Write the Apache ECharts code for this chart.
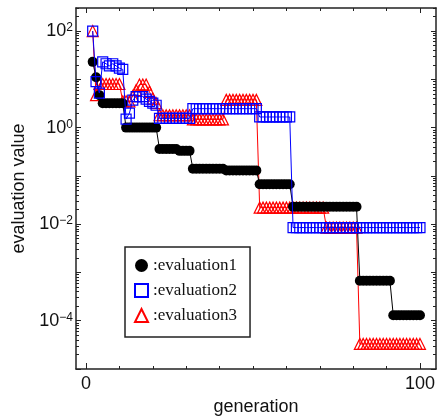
<!DOCTYPE html>
<html><head><meta charset="utf-8">
<script src="https://cdn.jsdelivr.net/npm/echarts@6/dist/echarts.min.js"></script>
<style>html,body{margin:0;padding:0;background:#fff}#c{width:437px;height:416px}</style>
</head><body><div id="c"></div>
<script>
const generations = [2,3,4,5,6,7,8,9,10,11,12,13,14,15,16,17,18,19,20,21,22,23,24,25,26,27,28,29,30,31,32,33,34,35,36,37,38,39,40,41,42,43,44,45,46,47,48,49,50,51,52,53,54,55,56,57,58,59,60,61,62,63,64,65,66,67,68,69,70,71,72,73,74,75,76,77,78,79,80,81,82,83,84,85,86,87,88,89,90,91,92,93,94,95,96,97,98,99,100];
const evaluation1 = [23,11,4.7,
 3.2,3.2,3.2,3.2,3.2,3.2,3.2,
 1,1,1,1,1,1,1,1,1,1,
 0.36,0.36,0.36,0.36,0.36,0.36,0.33,0.33,0.33,0.33,
 0.14,0.14,0.14,0.14,0.14,0.14,0.14,0.14,0.14,0.14,
 0.13,0.13,0.13,0.13,0.13,0.13,0.13,0.13,0.13,0.13,
 0.067,0.067,0.067,0.067,0.067,0.067,0.067,0.067,0.067,0.067,
 0.023,0.023,0.023,0.023,0.023,0.023,0.023,0.023,0.023,0.023,0.023,0.023,0.023,0.023,0.023,0.023,0.023,0.023,0.023,0.023,
 6.7e-4,6.7e-4,6.7e-4,6.7e-4,6.7e-4,6.7e-4,6.7e-4,6.7e-4,6.7e-4,6.7e-4,
 1.3e-4,1.3e-4,1.3e-4,1.3e-4,1.3e-4,1.3e-4,1.3e-4,1.3e-4,1.3e-4];
const evaluation2 = [100,9,5.2,23,21,19,21,19,17,16,1.5,2.0,3.7,4.4,4.4,4.4,3.9,3.5,3.2,2.9,
 1.55,1.55,1.55,1.55,1.55,1.55,1.55,1.55,1.55,1.55,
 2.47,2.47,2.47,2.47,2.47,2.47,2.47,2.47,2.47,2.47,2.47,2.47,2.47,2.47,2.47,2.47,2.47,2.47,2.47,2.47,
 1.66,1.66,1.66,1.66,1.66,1.66,1.66,1.66,1.66,1.66,
 0.0085,0.0085,0.0085,0.0085,0.0085,0.0085,0.0085,0.0085,0.0085,0.0085,0.0085,0.0085,0.0085,0.0085,0.0085,0.0085,0.0085,0.0085,0.0085,0.0085,
 0.0085,0.0085,0.0085,0.0085,0.0085,0.0085,0.0085,0.0085,0.0085,0.0085,0.0085,0.0085,0.0085,0.0085,0.0085,0.0085,0.0085,0.0085,0.0085];
const evaluation3 = [100,4.7,
 8,8,8,8,8,8,8,
 3.5,3.5,3.5,4.5,6.0,7.8,7.8,7.8,5.5,4.0,3.2,
 1.8,1.8,1.8,1.8,1.8,1.8,1.8,1.8,1.8,1.8,
 1.48,1.48,1.48,1.48,1.48,1.48,1.48,1.48,1.48,1.48,
 3.75,3.75,3.75,3.75,3.75,3.75,3.75,3.75,3.75,3.75,
 0.022,0.022,0.022,0.022,0.022,0.022,0.022,0.022,0.022,0.022,0.022,0.022,0.022,0.022,0.022,0.022,0.022,0.022,0.022,0.022,
 0.0085,0.0085,0.0085,0.0085,0.0085,0.0085,0.0085,0.0085,0.0085,0.0085,
 3.3e-5,3.3e-5,3.3e-5,3.3e-5,3.3e-5,3.3e-5,3.3e-5,3.3e-5,3.3e-5,3.3e-5,3.3e-5,3.3e-5,3.3e-5,3.3e-5,3.3e-5,3.3e-5,3.3e-5,3.3e-5,3.3e-5];
const seriesNames = ['evaluation1','evaluation2','evaluation3'];
const xLabelValues = [0, 100];
const xMinorTickValues = [10,20,30,40,50,60,70,80,90];
const yLabelValues = [1e-4, 1e-2, 1, 100];
const yMajorTickValues = [1e-5,1e-4,1e-3,1e-2,1e-1,1,10,100];

const yMinorTickValues = [];
yMajorTickValues.forEach(d => { for (let k = 2; k <= 9; k++) { const v = d * k; if (v <= 300) yMinorTickValues.push(v); } });

const pair = (vals) => generations.map((g, i) => [g, vals[i]]);
const AX = '#222';
const font = 'Liberation Sans, Arial, sans-serif';
const Y_MIN = 1e-5, Y_MAX = 300;

function xAxisDef(pos, ticks, len, showLine, labels) {
  return {
    type: 'value', position: pos, min: -3, max: 104.8, gridIndex: 0,
    axisLine: {show: showLine, onZero: false, lineStyle: {color: AX, width: 1.5}},
    axisTick: {show: true, inside: true, length: len, customValues: ticks, lineStyle: {color: AX, width: 1}},
    axisLabel: labels ? {show: true, customValues: labels, margin: 6, color: '#111', fontSize: 18, fontFamily: font} : {show: false},
    splitLine: {show: false}
  };
}
function yAxisDef(pos, ticks, len, showLine, labels) {
  return {
    type: 'log', logBase: 10, position: pos, min: Y_MIN, max: Y_MAX, gridIndex: 0,
    axisLine: {show: showLine, onZero: false, lineStyle: {color: AX, width: 1.5}},
    axisTick: {show: true, inside: true, length: len, customValues: ticks, lineStyle: {color: AX, width: 1}},
    axisLabel: labels ? {
      show: true, customValues: labels, margin: 3, color: '#111', fontFamily: font,
      formatter: v => { const e = Math.round(Math.log10(v)); return '{b|10}{s|' + (e < 0 ? '\u2212' + (-e) : e) + '}'; },
      rich: {b: {fontSize: 18, fontFamily: font, color: '#111'}, s: {fontSize: 12, fontFamily: font, color: '#111', verticalAlign: 'top', padding: [0,0,4,0]}}
    } : {show: false},
    splitLine: {show: false}
  };
}

const xAxes = [
  Object.assign(xAxisDef('bottom', xLabelValues, 6, true, xLabelValues), {name: 'generation', nameLocation: 'middle', nameGap: 27, nameTextStyle: {fontSize: 18, fontFamily: font, color: '#111'}}),
  xAxisDef('bottom', xMinorTickValues, 3, false, null),
  xAxisDef('top', xLabelValues, 5, true, null),
  xAxisDef('top', xMinorTickValues, 3, false, null)
];
const yAxes = [
  Object.assign(yAxisDef('left', yMajorTickValues, 5, true, yLabelValues), {name: 'evaluation value', nameLocation: 'middle', nameGap: 43, nameTextStyle: {fontSize: 18, fontFamily: font, color: '#111'}}),
  yAxisDef('left', yMinorTickValues, 3, false, null),
  yAxisDef('right', yMajorTickValues, 5, true, null),
  yAxisDef('right', yMinorTickValues, 3, false, null)
];

const chart = echarts.init(document.getElementById('c'), null, {renderer: 'canvas'});
chart.setOption({
  animation: false,
  backgroundColor: '#fff',
  grid: {left: 76, right: 1, top: 8, bottom: 47, containLabel: false, outerBoundsMode: 'none'},
  xAxis: xAxes,
  yAxis: yAxes,
  legend: {
    orient: 'vertical', left: 125, top: 247, z: 10,
    backgroundColor: '#fff', borderColor: '#222', borderWidth: 1.5,
    padding: [10, 13, 13, 9], itemGap: 8, itemWidth: 13, itemHeight: 13,
    formatter: n => ':' + n,
    textStyle: {fontFamily: 'Liberation Serif, Times New Roman, serif', fontSize: 17, color: '#111'},
    data: [
      {name: seriesNames[0], icon: 'circle', itemStyle: {color: '#000', borderWidth: 0}},
      {name: seriesNames[1], icon: 'rect', itemStyle: {color: 'rgba(255,255,255,0)', borderColor: '#0000ff', borderWidth: 2}},
      {name: seriesNames[2], icon: 'triangle', itemStyle: {color: 'rgba(255,255,255,0)', borderColor: '#ff0000', borderWidth: 2}}
    ]
  },
  series: [
    {name: seriesNames[0], type: 'line', data: pair(evaluation1), z: 3,
     symbol: 'circle', symbolSize: 10, showAllSymbol: true,
     itemStyle: {color: '#000'}, lineStyle: {color: '#000', width: 1}},
    {name: seriesNames[1], type: 'line', data: pair(evaluation2), z: 4,
     symbol: 'rect', symbolSize: 10, showAllSymbol: true,
     itemStyle: {color: 'rgba(255,255,255,0)', borderColor: '#0000ff', borderWidth: 1.2}, lineStyle: {color: '#0000ff', width: 1}},
    {name: seriesNames[2], type: 'line', data: pair(evaluation3), z: 2,
     symbol: 'triangle', symbolSize: 11, showAllSymbol: true,
     itemStyle: {color: 'rgba(255,255,255,0)', borderColor: '#ff0000', borderWidth: 1.2}, lineStyle: {color: '#ff0000', width: 1}}
  ]
});
</script></body></html>
